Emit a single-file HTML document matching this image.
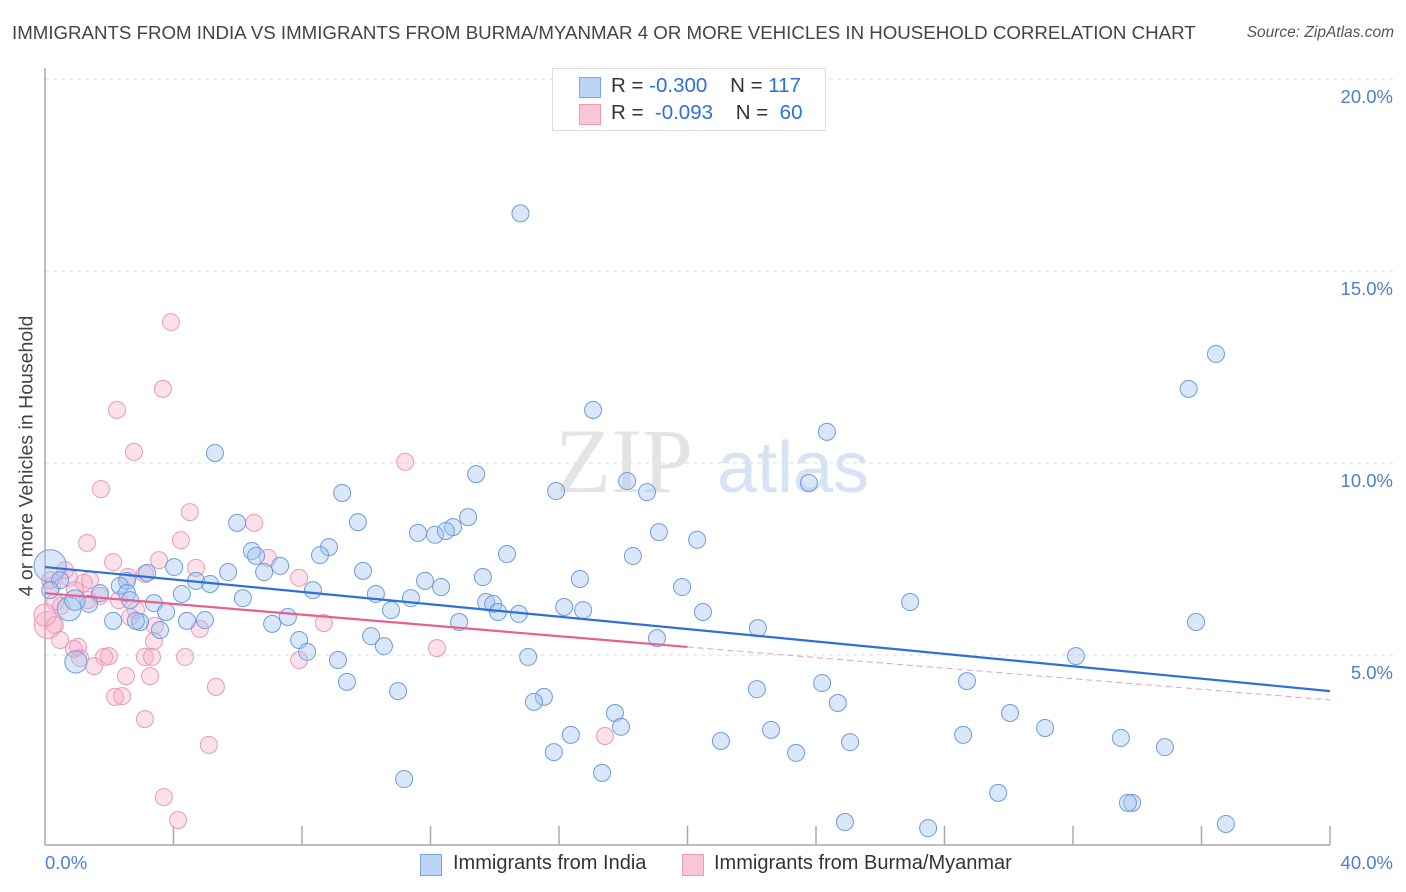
<!DOCTYPE html>
<html><head><meta charset="utf-8">
<style>
body{margin:0;background:#fff;font-family:"Liberation Sans",sans-serif;}
#wrap{position:relative;width:1406px;height:892px;overflow:hidden;}
.t{position:absolute;white-space:nowrap;}
</style></head>
<body>
<div id="wrap">
<div class="t" style="left:12px;top:22px;font-size:18.7px;color:#444;">IMMIGRANTS FROM INDIA VS IMMIGRANTS FROM BURMA/MYANMAR 4 OR MORE VEHICLES IN HOUSEHOLD CORRELATION CHART</div>
<div class="t" style="right:12px;top:24px;font-size:15.5px;color:#555;font-style:italic;">Source: ZipAtlas.com</div>
<svg id="svg" width="1406" height="892" style="position:absolute;left:0;top:0"></svg>
</div>
<script>
const blueX=[14.8,36.45,35.6,17.06,24.34,5.29,18.12,23.78,15.91,18.74,13.42,9.25,5.98,9.74,13.17,12.7,11.61,12.14,12.48,19.11,20.3,6.44,8.84,14.38,18.3,8.56,6.57,7.32,9.9,4.02,3.18,5.7,6.82,13.63,16.65,11.83,4.7,5.14,2.55,2.33,12.33,19.83,8.34,10.3,6.16,4.26,1.71,2.55,3.39,1.37,0.75,13.73,13.95,11.39,14.1,16.16,16.75,20.48,14.75,10.77,26.93,7.56,3.77,4.42,4.98,2.12,2.96,2.83,7.07,12.89,3.58,22.19,35.83,7.91,10.15,10.55,19.05,8.16,9.12,15.04,32.09,0.96,9.4,28.7,15.53,15.22,24.19,10.99,22.16,24.68,30.04,17.74,17.93,22.6,16.37,21.04,25.06,28.58,31.13,33.49,34.86,15.84,23.38,11.18,17.34,29.67,33.84,33.71,24.9,27.49,36.76,0.16,0.93,0.47,0.16,2.65];
const blueY=[16.5,12.84,11.93,11.38,10.81,10.26,9.53,9.48,9.27,9.24,9.71,9.22,8.44,8.46,8.59,8.33,8.18,8.13,8.23,8.2,8.0,7.71,7.81,7.63,7.58,7.6,7.58,7.32,7.19,7.29,7.14,7.16,7.16,7.03,6.98,6.93,6.93,6.85,6.93,6.8,6.77,6.77,6.69,6.59,6.48,6.59,6.61,6.61,6.35,6.33,6.2,6.38,6.33,6.48,6.12,6.25,6.17,6.12,6.07,6.17,6.38,5.99,6.12,5.89,5.91,5.89,5.86,5.89,5.81,5.86,5.65,5.7,5.86,5.39,5.49,5.23,5.44,5.08,4.87,4.95,4.97,4.82,4.3,4.32,3.91,3.78,4.27,4.06,4.11,3.75,3.49,3.49,3.13,3.05,2.92,2.76,2.73,2.92,3.1,2.84,2.6,2.47,2.45,1.77,1.93,1.41,1.15,1.15,0.65,0.49,0.6,7.32,6.43,6.95,6.69,6.43];
const blueW={111:1.9,50:1.4,81:1.3,112:1.2};
const pinkX=[3.92,3.67,2.24,2.77,11.21,1.74,4.51,6.51,4.23,1.31,3.55,2.12,6.94,4.7,7.91,3.11,2.58,0.75,1.21,0.22,0.31,0.5,1.71,2.3,1.34,2.83,2.65,3.42,4.82,8.68,3.39,0.9,1.03,1.99,1.84,1.09,3.11,3.33,4.36,7.91,12.2,1.53,2.52,3.27,5.32,2.18,2.4,3.11,5.1,17.43,3.7,4.14,0.09,0.31,0,0.62,0.93,0.16,1.4,0.47];
const pinkY=[13.67,11.93,11.38,10.29,10.03,9.32,8.72,8.44,7.99,7.92,7.47,7.42,7.53,7.27,7.01,7.11,7.03,7.01,6.88,6.8,6.38,6.28,6.54,6.43,6.43,6.17,5.99,5.76,5.68,5.83,5.36,5.16,5.21,4.97,4.95,4.92,4.95,4.95,4.95,4.87,5.18,4.71,4.45,4.45,4.17,3.91,3.93,3.33,2.66,2.89,1.3,0.7,5.78,5.78,6.04,7.21,6.69,6.95,6.95,5.39];
const pinkW={52:1.6,54:1.3};
const blueTrend=[7.29,4.06];
const pinkTrend=[6.61,5.21,3.83];
const yTicks=[5,10,15,20];
const yTickLabels=["5.0%","10.0%","15.0%","20.0%"];

const X0=45,X1=1330,Y0=847,PX=(X1-X0)/40,PY=38.4;
const sx=v=>X0+v*PX, sy=v=>Y0-v*PY;
const svg=document.getElementById('svg');
const NS='http://www.w3.org/2000/svg';
function mk(tag,attrs){const e=document.createElementNS(NS,tag);for(const k in attrs)e.setAttribute(k,attrs[k]);svg.appendChild(e);return e;}
yTicks.forEach((t,i)=>{
  const g=mk('line',{x1:X0,x2:1394,y1:sy(t),y2:sy(t),stroke:'#ddd','stroke-dasharray':'4,4'});
  
  
  const tx=mk('text',{x:1393,y:sy(t)+24,'text-anchor':'end','font-size':18.5,fill:'#4a7fd6','font-family':'Liberation Sans, sans-serif'});
  tx.textContent=yTickLabels[i];
  
  
});
const ax=mk('line',{x1:X0,x2:X1,y1:845,y2:845,stroke:'#aaa','stroke-width':1.5});


const ay=mk('line',{x1:X0,x2:X0,y1:68,y2:845,stroke:'#aaa','stroke-width':1.5});


for(let k=1;k<=10;k++){
  const tk=mk('line',{x1:sx(k*4),x2:sx(k*4),y1:826,y2:845,stroke:'#aaa','stroke-width':1.5});
  
  
}
const wm=mk('text',{x:555,y:492,'font-size':92,fill:'#e4e4e4','font-family':'Liberation Serif, serif'});wm.textContent='ZIP';


const wm2=mk('text',{x:717,y:492,'font-size':72,fill:'#d5e3f5','font-family':'Liberation Sans, sans-serif'});wm2.textContent='atlas';


pinkX.forEach((v,i)=>{
  const c=mk('circle',{cx:sx(v),cy:sy(pinkY[i]),r:8.5*(pinkW[i]||1),fill:'rgba(245,170,195,0.35)',stroke:'#eb9ab6','stroke-width':1});
  
  
});
blueX.forEach((v,i)=>{
  const c=mk('circle',{cx:sx(v),cy:sy(blueY[i]),r:8.5*(blueW[i]||1),fill:'rgba(160,195,240,0.4)',stroke:'#6c9de0','stroke-width':1});
  
  
});
const bl=mk('line',{x1:sx(0),y1:sy(blueTrend[0]),x2:sx(40),y2:sy(blueTrend[1]),stroke:'#2f6fd8','stroke-width':2.2});


const pl=mk('line',{x1:sx(0),y1:sy(pinkTrend[0]),x2:sx(20),y2:sy(pinkTrend[1]),stroke:'#e8608f','stroke-width':2.2});


const pd=mk('line',{x1:sx(20),y1:sy(pinkTrend[1]),x2:sx(40),y2:sy(pinkTrend[2]),stroke:'#e8a0b8','stroke-width':1,'stroke-dasharray':'6,4'});


</script>
<div class="t" style="left:27px;top:456px;font-size:19.5px;color:#444;transform:translate(-50%,-50%) rotate(-90deg);">4 or more Vehicles in Household</div>
<div class="t" style="left:45px;top:852px;font-size:18.5px;color:#4a7fd6;">0.0%</div>
<div class="t" style="right:13px;top:852px;font-size:18.5px;color:#4a7fd6;">40.0%</div>
<div style="position:absolute;left:552px;top:68px;width:272px;height:61px;border:1px solid #ddd;background:#fff;font-size:20.5px;color:#333;">
  <div style="position:absolute;left:26px;top:8px;width:20px;height:19px;background:#bcd5f7;border:1px solid #7aa6e4;"></div>
  <div class="t" style="left:58px;top:5px;">R = <span style="color:#2f6fd8">-0.300</span>&nbsp;&nbsp;&nbsp; N = <span style="color:#2f6fd8">117</span></div>
  <div style="position:absolute;left:26px;top:35px;width:20px;height:19px;background:#f8c6d6;border:1px solid #ec9ab5;"></div>
  <div class="t" style="left:58px;top:32px;">R = &nbsp;<span style="color:#2f6fd8">-0.093</span>&nbsp;&nbsp;&nbsp; N = &nbsp;<span style="color:#2f6fd8">60</span></div>
</div>
<div style="position:absolute;left:420px;top:852px;height:26px;font-size:20px;color:#333;">
  <div style="position:absolute;left:0;top:2px;width:20px;height:20px;background:#bcd5f7;border:1px solid #7aa6e4;"></div>
  <div class="t" style="left:33px;top:0px;">Immigrants from India</div>
  <div style="position:absolute;left:262px;top:2px;width:20px;height:20px;background:#f8c6d6;border:1px solid #ec9ab5;"></div>
  <div class="t" style="left:294px;top:0px;">Immigrants from Burma/Myanmar</div>
</div>
</body></html>
